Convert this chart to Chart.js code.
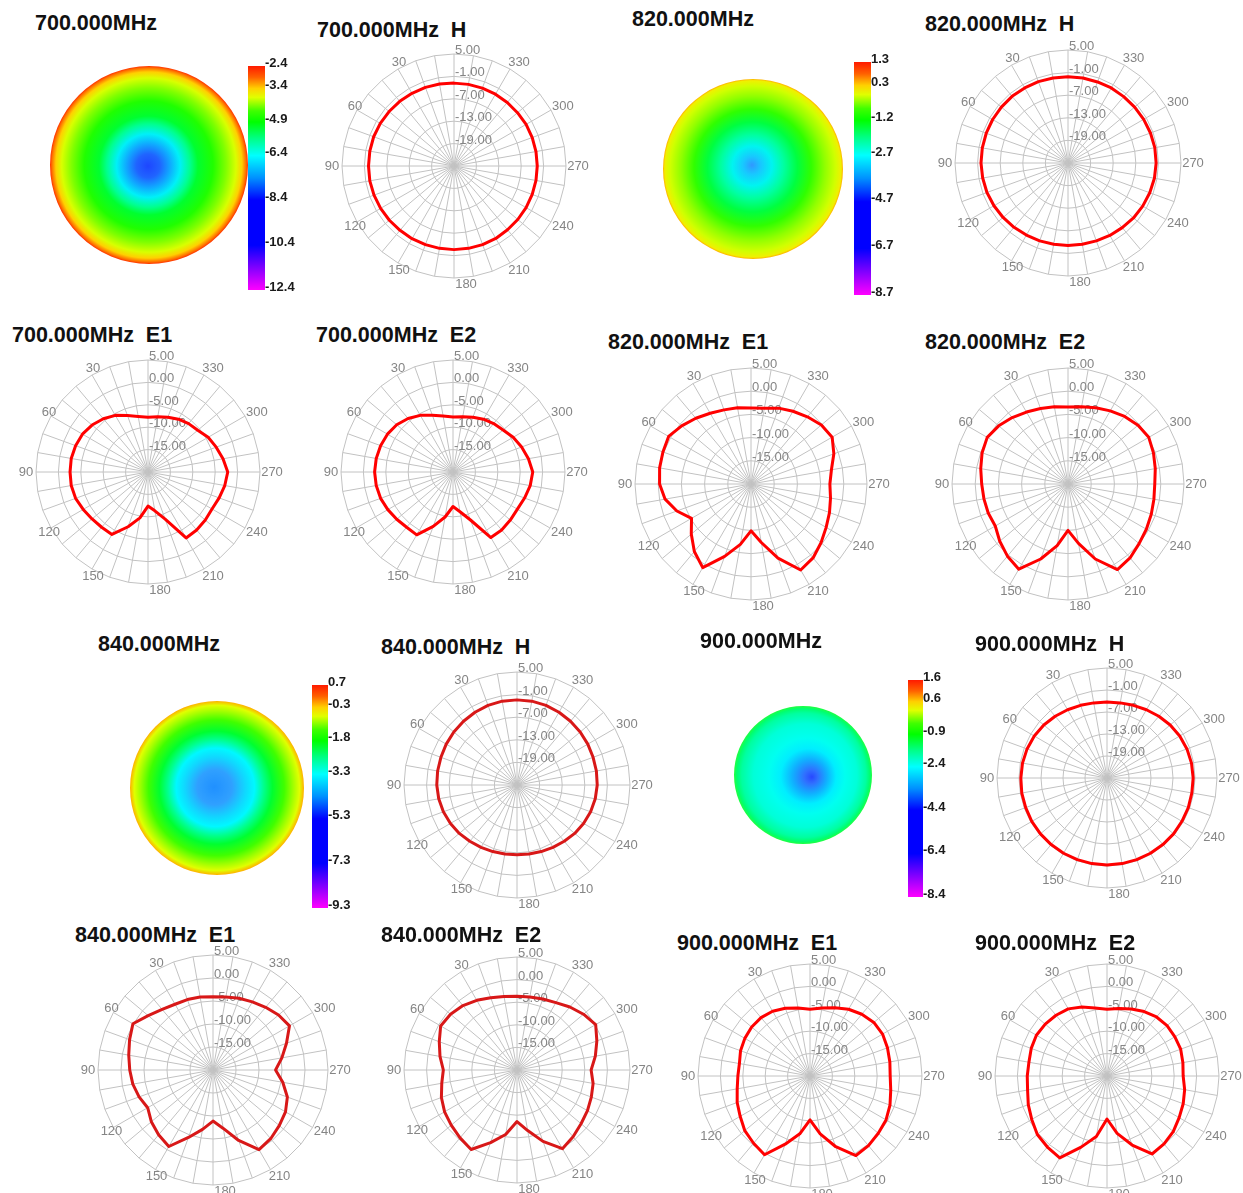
<!DOCTYPE html>
<html>
<head>
<meta charset="utf-8">
<script src="https://cdn.jsdelivr.net/npm/chart.js@4.4.1/dist/chart.umd.min.js"></script>
<style>
  html, body { margin: 0; padding: 0; background: #fff; }
  #page { position: relative; width: 1243px; height: 1193px; overflow: hidden; }
  #page canvas { position: absolute; }
  .ttl { position: absolute; font: bold 21.5px "Liberation Sans", Arial, sans-serif; line-height: 21px; color: #111; white-space: pre; }
</style>
</head>
<body>
<div id="page"></div>
<script>
// angles, counter-clockwise from the top, 10 degree steps
const ANGLES = [0, 10, 20, 30, 40, 50, 60, 70, 80, 90, 100, 110, 120, 130, 140, 150, 160, 170,
  180, 190, 200, 210, 220, 230, 240, 250, 260, 270, 280, 290, 300, 310, 320, 330, 340, 350];

const H_RINGS = [5, -1, -7, -13, -19];
const E_RINGS = [5, 0, -5, -10, -15];

// gain in dB, one value per angle above
const H_700 = [-2.8, -2.7, -2.6, -2.5, -2.4, -2.3, -2.2, -2.1, -2.1, -2.1, -2.1, -2.2, -2.3, -2.4, -2.5, -2.5, -2.6, -2.6,
  -2.6, -2.6, -2.6, -2.6, -2.7, -2.7, -2.7, -2.7, -2.7, -2.7, -2.7, -2.7, -2.7, -2.8, -2.8, -2.8, -2.8, -2.8];
const H_820 = [-2.1, -2.1, -2.0, -2.0, -1.9, -1.9, -1.9, -1.9, -1.9, -1.9, -2.0, -2.1, -2.3, -2.5, -2.7, -2.9, -3.0, -3.1,
  -3.1, -3.1, -3.0, -2.8, -2.6, -2.3, -2.1, -1.9, -1.7, -1.6, -1.6, -1.7, -1.8, -1.9, -2.0, -2.0, -2.1, -2.1];
const H_840 = [-2.4, -2.4, -2.5, -2.7, -2.9, -3.1, -3.3, -3.5, -3.6, -3.7, -3.9, -4.2, -4.6, -5.0, -5.5, -5.9, -6.2, -6.4,
  -6.5, -6.4, -6.2, -5.9, -5.5, -5.0, -4.6, -4.2, -3.9, -3.7, -3.6, -3.5, -3.3, -3.1, -2.9, -2.7, -2.5, -2.4];
const H_900 = [-4.3, -4.2, -3.9, -3.5, -3.0, -2.5, -2.1, -1.8, -1.6, -1.5, -1.4, -1.4, -1.3, -1.3, -1.3, -1.3, -1.3, -1.3,
  -1.3, -1.3, -1.3, -1.3, -1.3, -1.3, -1.4, -1.4, -1.5, -1.5, -1.6, -1.8, -2.1, -2.5, -3.0, -3.5, -3.9, -4.2];

const E1_700 = [-7.8, -7.4, -6.6, -5.4, -4.5, -3.7, -3.1, -2.8, -2.6, -2.6, -2.6, -2.8, -3.3, -3.7, -3.9, -3.9, -7.0, -9.6,
  -12.4, -11.2, -8.8, -3.0, -3.1, -3.3, -3.5, -3.1, -2.6, -2.2, -3.0, -3.8, -4.5, -5.5, -5.9, -6.4, -7.0, -7.5];
const E2_700 = [-7.7, -7.3, -6.5, -5.4, -4.4, -3.6, -3.1, -2.8, -2.6, -2.5, -2.6, -2.8, -3.2, -3.6, -3.9, -3.8, -7.1, -9.8,
  -12.3, -11.0, -8.6, -3.1, -3.1, -3.3, -3.4, -3.0, -2.5, -2.2, -2.9, -3.7, -4.5, -5.4, -5.9, -6.4, -7.0, -7.5];
const E1_820 = [-3.6, -3.3, -3.0, -2.4, -1.5, -0.5, 0.5, 0.2, 0.0, -0.3, -1.2, -3.0, -5.2, -3.2, -1.0, 0.8, -3.4, -6.8,
  -9.9, -7.2, -3.0, 1.4, 0.8, -0.3, -1.3, -2.0, -2.6, -3.0, -2.4, -1.0, 0.2, -0.2, -1.1, -1.9, -2.6, -3.4];
const E2_820 = [-3.4, -3.1, -2.7, -2.1, -1.3, -0.5, 0.1, -0.3, -0.9, -1.4, -1.6, -1.7, -1.9, -0.8, 0.3, 1.2, -2.8, -6.5,
  -10.0, -7.0, -2.8, 1.3, 0.8, 0.0, -0.5, -0.9, -1.2, -1.3, -0.9, -0.4, 0.1, -0.3, -1.0, -1.8, -2.5, -3.1];
const E1_840 = [-4.1, -3.9, -3.7, -3.5, -2.8, -1.6, 0.1, -0.7, -1.4, -1.9, -2.3, -2.9, -3.6, -2.5, -1.6, -0.8, -4.4, -6.9,
  -8.9, -7.1, -3.7, 0.0, -0.5, -1.2, -1.8, -2.8, -4.6, -6.4, -4.8, -3.0, -0.8, -1.4, -2.2, -2.9, -3.4, -3.9];
const E2_840 = [-3.7, -3.5, -3.0, -2.2, -1.4, -0.8, -0.5, -1.7, -2.7, -3.7, -3.1, -2.2, -1.5, -1.0, -0.4, 0.3, -2.9, -5.5,
  -8.6, -6.4, -3.2, 0.1, -0.7, -1.5, -2.0, -2.5, -2.9, -3.6, -2.4, -1.2, 0.1, -0.8, -1.8, -2.8, -3.3, -3.6];
const E1_900 = [-5.1, -4.6, -3.9, -3.3, -3.0, -3.0, -3.2, -3.5, -4.0, -3.9, -3.5, -2.7, -2.0, -1.0, -0.4, 0.3, -3.8, -6.9,
  -10.2, -6.9, -3.2, 0.5, 0.3, -0.1, -0.4, -1.0, -1.7, -2.1, -1.9, -1.6, -1.3, -1.4, -2.0, -2.8, -3.8, -4.6];
const E2_900 = [-5.1, -4.6, -3.6, -2.7, -2.3, -2.0, -1.8, -2.0, -2.3, -2.2, -2.0, -1.3, -0.6, 0.3, 0.7, 1.1, -3.1, -6.3,
  -10.4, -7.0, -3.6, 0.1, -0.2, -0.7, -1.4, -1.9, -2.4, -3.0, -2.8, -2.5, -2.5, -2.5, -2.8, -3.4, -4.1, -4.7];

// colour bar tick labels, top to bottom
const CB_700 = [-2.4, -3.4, -4.9, -6.4, -8.4, -10.4, -12.4];
const CB_820 = [1.3, 0.3, -1.2, -2.7, -4.7, -6.7, -8.7];
const CB_840 = [0.7, -0.3, -1.8, -3.3, -5.3, -7.3, -9.3];
const CB_900 = [1.6, 0.6, -0.9, -2.4, -4.4, -6.4, -8.4];

const FONT = '"Liberation Sans", Arial, sans-serif';
Chart.defaults.font.family = FONT;

const page = document.getElementById('page');

function addTitle(text, x, capTop) {
  const d = document.createElement('div');
  d.className = 'ttl';
  d.textContent = text;
  d.style.left = x + 'px';
  d.style.top = (capTop - 3) + 'px';
  page.appendChild(d);
}

function addCanvas(left, top, w, h) {
  const c = document.createElement('canvas');
  c.width = w; c.height = h;
  c.style.left = left + 'px'; c.style.top = top + 'px';
  c.style.width = w + 'px'; c.style.height = h + 'px';
  page.appendChild(c);
  return c;
}

// radar labels run clockwise, the pattern angles run counter-clockwise
const cw = arr => arr.map((v, i) => arr[(arr.length - i) % arr.length]);

const polarText = {
  id: 'polarText',
  beforeDatasetsDraw(chart, args, opts) {
    const s = chart.scales.r;
    const ctx = chart.ctx;
    const R = s.drawingArea;
    ctx.save();
    ctx.font = '13px ' + FONT;
    ctx.fillStyle = '#858585';
    ctx.textAlign = 'left';
    ctx.textBaseline = 'alphabetic';
    opts.rings.forEach(v => {
      const p = s.getPointPositionForValue(0, v);
      ctx.fillText(v.toFixed(2), p.x + 1, p.y);
    });
    ctx.textAlign = 'center';
    ctx.textBaseline = 'middle';
    chart.data.labels.forEach((a, i) => {
      if (a === 0 || a % 30) return;
      const ang = s.getPointPosition(i, 0).angle;
      let d = R + 8, dx = 5;
      if (a === 90) { d = R + 10; dx = 0; }
      if (a === 270) { d = R + 12; dx = 0; }
      let x = s.xCenter + Math.cos(ang) * d + dx;
      let y = s.yCenter + Math.sin(ang) * d;
      if (a === 180) { x = s.xCenter + 12; y = s.yCenter + R + 6; }
      ctx.fillText(String(a), x, y);
    });
    ctx.restore();
  }
};

const PAD = 34;
const polars = [
  { title: '700.000MHz  H', tx: 317, ty: 23, data: H_700, rings: H_RINGS, cx: 454, cy: 166, R: 112, color: '#ff0000' },
  { title: '820.000MHz  H', tx: 925, ty: 17, data: H_820, rings: H_RINGS, cx: 1068, cy: 163, R: 113, color: '#ff0000' },
  { title: '700.000MHz  E1', tx: 12, ty: 328, data: E1_700, rings: E_RINGS, cx: 148, cy: 472, R: 112, color: '#ff0000' },
  { title: '700.000MHz  E2', tx: 316, ty: 328, data: E2_700, rings: E_RINGS, cx: 453, cy: 472, R: 112, color: '#ff0000' },
  { title: '820.000MHz  E1', tx: 608, ty: 335, data: E1_820, rings: E_RINGS, cx: 751, cy: 484, R: 116, color: '#ff0000' },
  { title: '820.000MHz  E2', tx: 925, ty: 335, data: E2_820, rings: E_RINGS, cx: 1068, cy: 484, R: 116, color: '#ff0000' },
  { title: '840.000MHz  H', tx: 381, ty: 640, data: H_840, rings: H_RINGS, cx: 517, cy: 785, R: 113, color: '#d81818' },
  { title: '900.000MHz  H', tx: 975, ty: 637, data: H_900, rings: H_RINGS, cx: 1107, cy: 778, R: 110, color: '#ff0000' },
  { title: '840.000MHz  E1', tx: 75, ty: 928, data: E1_840, rings: E_RINGS, cx: 213, cy: 1070, R: 115, color: '#d81818' },
  { title: '840.000MHz  E2', tx: 381, ty: 928, data: E2_840, rings: E_RINGS, cx: 517, cy: 1070, R: 113, color: '#d81818' },
  { title: '900.000MHz  E1', tx: 677, ty: 936, data: E1_900, rings: E_RINGS, cx: 810, cy: 1076, R: 112, color: '#ff0000' },
  { title: '900.000MHz  E2', tx: 975, ty: 936, data: E2_900, rings: E_RINGS, cx: 1107, cy: 1076, R: 112, color: '#ff0000' },
];

polars.forEach(p => {
  addTitle(p.title, p.tx, p.ty);
  const size = 2 * (p.R + PAD);
  const c = addCanvas(p.cx - p.R - PAD, p.cy - p.R - PAD, size, size);
  const isH = p.rings === H_RINGS;
  new Chart(c, {
    type: 'radar',
    data: {
      labels: cw(ANGLES),
      datasets: [{
        data: cw(p.data),
        borderColor: p.color,
        borderWidth: 3,
        borderJoinStyle: 'round',
        pointRadius: 0,
        fill: false,
        tension: 0,
      }],
    },
    options: {
      responsive: false,
      animation: false,
      devicePixelRatio: 1,
      events: [],
      layout: { padding: PAD },
      plugins: { legend: { display: false }, tooltip: { enabled: false }, polarText: { rings: p.rings } },
      scales: {
        r: {
          min: isH ? -25 : -20,
          max: 5,
          ticks: { display: false, stepSize: isH ? 6 : 5 },
          pointLabels: { display: false },
          grid: { color: '#c2c2c2', lineWidth: 1 },
          angleLines: { color: '#c2c2c2', lineWidth: 1 },
        },
      },
    },
    plugins: [polarText],
  });
});

// 3D pattern seen from above + colour bar
const CB_STOPS = [[0, '#ff1a00'], [0.05, '#ff6000'], [0.1, '#ffd000'], [0.14, '#e0ff00'], [0.2, '#40ff00'],
  [0.25, '#00ff00'], [0.32, '#00ff80'], [0.4, '#00ffff'], [0.5, '#0090ff'], [0.6, '#0000ff'], [0.8, '#0000ff'],
  [0.9, '#8000ff'], [1, '#ff00ff']];

const discs = [
  { title: '700.000MHz', tx: 35, ty: 16, cx: 149, cy: 165, r: 99, fx: -1, fy: 1, cb: CB_700, bx: 248, by: 66, bw: 17, bh: 224,
    stops: [[0, '#1e46ff'], [0.12, '#2064ff'], [0.22, '#10a8ff'], [0.32, '#00f0f8'], [0.42, '#00ff90'], [0.5, '#00ff30'],
      [0.65, '#20ff00'], [0.78, '#80ff00'], [0.88, '#d8ff00'], [0.94, '#ffd000'], [0.98, '#ff7000'], [1, '#ff3000']] },
  { title: '820.000MHz', tx: 632, ty: 12, cx: 753, cy: 169, r: 90, fx: -1, fy: -4, cb: CB_820, bx: 854, by: 62, bw: 17, bh: 233,
    stops: [[0, '#3098ff'], [0.1, '#18c8ff'], [0.22, '#00f4f0'], [0.35, '#00ffa0'], [0.5, '#00ff40'], [0.65, '#30ff00'],
      [0.8, '#90ff00'], [0.92, '#d0ff00'], [0.98, '#f0f000'], [1, '#ffb000']] },
  { title: '840.000MHz', tx: 98, ty: 637, cx: 217, cy: 788, r: 87, fx: -3, fy: -1, cb: CB_840, bx: 312, by: 685, bw: 16, bh: 223,
    stops: [[0, '#2090ff'], [0.2, '#30a0ff'], [0.35, '#10d8ff'], [0.45, '#00f8ff'], [0.55, '#00ff90'], [0.65, '#00ff30'],
      [0.78, '#40ff00'], [0.88, '#a0ff00'], [0.95, '#e0ff00'], [1, '#ffb000']] },
  { title: '900.000MHz', tx: 700, ty: 634, cx: 803, cy: 775, r: 69, fx: 9, fy: 2, cb: CB_900, bx: 908, by: 680, bw: 15, bh: 217,
    stops: [[0, '#2848ff'], [0.1, '#3070ff'], [0.25, '#10b0ff'], [0.4, '#00eeff'], [0.55, '#00fff0'], [0.75, '#00ffd8'],
      [0.9, '#00ffa0'], [0.96, '#00ff70'], [1, '#20ff40']] },
];

discs.forEach(d => {
  addTitle(d.title, d.tx, d.ty);

  const dc = addCanvas(d.cx - d.r, d.cy - d.r, 2 * d.r, 2 * d.r);
  new Chart(dc, {
    type: 'pie',
    data: {
      labels: [d.title],
      datasets: [{
        data: [1],
        borderWidth: 0,
        backgroundColor: (ctx) => {
          const ch = ctx.chart, a = ch.chartArea;
          if (!a) return '#00ff00';
          const x = (a.left + a.right) / 2, y = (a.top + a.bottom) / 2;
          const g = ch.ctx.createRadialGradient(x + d.fx, y + d.fy, 0, x, y, d.r);
          d.stops.forEach(s => g.addColorStop(s[0], s[1]));
          return g;
        },
      }],
    },
    options: {
      responsive: false, animation: false, devicePixelRatio: 1, events: [],
      plugins: { legend: { display: false }, tooltip: { enabled: false } },
    },
  });

  const AXW = 40, VP = 9;
  const bc = addCanvas(d.bx, d.by - VP, d.bw + AXW, d.bh + 2 * VP);
  const top = d.cb[0], bottom = d.cb[d.cb.length - 1];
  new Chart(bc, {
    type: 'bar',
    data: {
      labels: [''],
      datasets: [{
        data: [[bottom, top]],
        borderWidth: 0,
        barPercentage: 1,
        categoryPercentage: 1,
        backgroundColor: (ctx) => {
          const ch = ctx.chart, a = ch.chartArea;
          if (!a) return '#00ff00';
          const g = ch.ctx.createLinearGradient(0, a.top, 0, a.bottom);
          CB_STOPS.forEach(s => g.addColorStop(s[0], s[1]));
          return g;
        },
      }],
    },
    options: {
      responsive: false, animation: false, devicePixelRatio: 1, events: [],
      layout: { padding: { top: VP, bottom: VP, left: 0, right: 0 } },
      plugins: { legend: { display: false }, tooltip: { enabled: false } },
      scales: {
        x: { display: false },
        y: {
          position: 'right',
          min: bottom,
          max: top,
          afterBuildTicks: ax => { ax.ticks = d.cb.map(v => ({ value: v })); },
          afterFit: ax => { ax.width = AXW; },
          grid: { display: false, drawTicks: false },
          border: { display: false },
          ticks: {
            padding: 0,
            labelOffset: -3,
            color: '#1a1a1a',
            font: { size: 13, weight: 'bold' },
            callback: v => Number(v).toFixed(1),
          },
        },
      },
    },
  });
});
</script>
</body>
</html>
